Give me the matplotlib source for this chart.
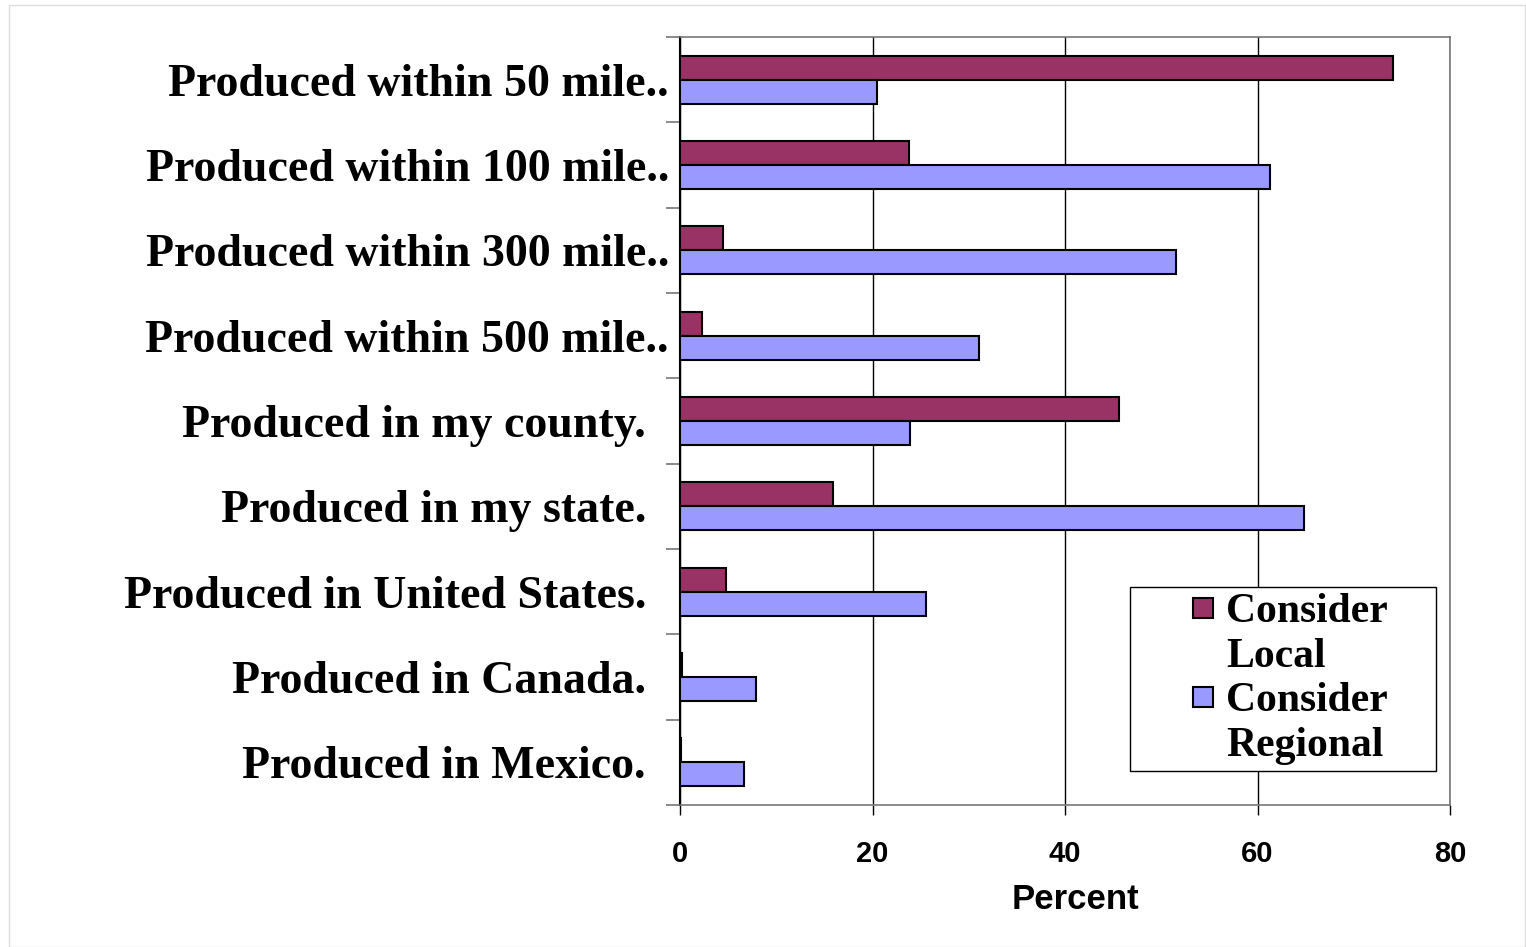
import matplotlib
matplotlib.use("Agg")
import matplotlib.pyplot as plt
from matplotlib.patches import Patch, Rectangle
from matplotlib.legend_handler import HandlerPatch
import numpy as np

categories = [
    "Produced within 50 mile..",
    "Produced within 100 mile..",
    "Produced within 300 mile..",
    "Produced within 500 mile..",
    "Produced in my county.",
    "Produced in my state.",
    "Produced in United States.",
    "Produced in Canada.",
    "Produced in Mexico.",
]
consider_local = [74.1, 23.8, 4.5, 2.3, 45.6, 15.9, 4.8, 0.2, 0.1]
consider_regional = [20.5, 61.3, 51.5, 31.1, 23.9, 64.8, 25.6, 7.9, 6.6]
x_ticks = [0, 20, 40, 60, 80]

LOCAL_COLOR = "#993366"
REGIONAL_COLOR = "#9999FF"

fig = plt.figure(figsize=(15.26, 9.47), dpi=100)
fig.patches.append(Rectangle((9 / 1526, 0), 1 - 9 / 1526 - 0.0005, 1 - 5 / 947,
                             transform=fig.transFigure, fill=False,
                             edgecolor="#dddddd", linewidth=1))
ax = fig.add_axes([680 / 1526, 1 - 805 / 947, 770 / 1526, 768 / 947])

y = np.arange(len(categories))
h = 0.28
ax.barh(y - h / 2, consider_local, height=h, color=LOCAL_COLOR,
        edgecolor="black", linewidth=1.5, zorder=3)
ax.barh(y + h / 2, consider_regional, height=h, color=REGIONAL_COLOR,
        edgecolor="black", linewidth=1.5, zorder=3)

ax.set_xlim(0, 80)
ax.set_ylim(len(categories) - 0.5, -0.5)
ax.set_xticks(x_ticks)
ax.set_xticklabels([str(t) for t in x_ticks], fontfamily="Liberation Sans",
                   fontweight="bold", fontsize=21)
ax.tick_params(axis="x", length=7, width=1, color="black", pad=18)
ax.grid(axis="x", color="black", linewidth=1, zorder=0)

labels = [c if c.endswith("..") else c + "  " for c in categories]
ax.set_yticks(y)
ax.set_yticklabels(labels, fontfamily="Liberation Serif", fontweight="bold",
                   fontsize=33)
ax.tick_params(axis="y", which="major", length=0, pad=8)
ax.set_yticks(np.arange(len(categories) + 1) - 0.5, minor=True)
ax.tick_params(axis="y", which="minor", length=10, width=1.2, color="#777777")

for s in ["top", "right", "bottom"]:
    ax.spines[s].set_color("#777777")
    ax.spines[s].set_linewidth(1.2)
ax.spines["left"].set_color("black")
ax.spines["left"].set_linewidth(1.5)

ax.set_xlabel("Percent", fontfamily="Liberation Sans", fontweight="bold",
              fontsize=25)
ax.xaxis.set_label_coords(0.513, -0.102)


def right_square(legend, orig_handle, xdescent, ydescent, width, height, fontsize):
    s = 0.48 * fontsize
    return Rectangle((-xdescent + width - s, -ydescent + (height - s) / 2), s, s)


blank = Patch(facecolor="none", edgecolor="none")
handles = [Patch(facecolor=LOCAL_COLOR, edgecolor="black", linewidth=1.5), blank,
           Patch(facecolor=REGIONAL_COLOR, edgecolor="black", linewidth=1.5), blank]
leg_labels = ["Consider", "Local", "Consider", "Regional"]
leg = ax.legend(handles, leg_labels, loc="upper left", mode="expand",
                bbox_to_anchor=(1130 / 1526, 1 - 768 / 947, 306 / 1526, 181 / 947),
                bbox_transform=fig.transFigure,
                handler_map={Patch: HandlerPatch(patch_func=right_square)},
                prop={"family": "Liberation Serif", "weight": "bold", "size": 30},
                frameon=True, fancybox=False, framealpha=1, edgecolor="black",
                handlelength=1.85, handleheight=0.7, handletextpad=0.3,
                labelspacing=0.15, borderpad=0.15, borderaxespad=0)
leg.get_frame().set_linewidth(1)
leg.set_zorder(5)

fig.savefig("out.png", dpi=100)
